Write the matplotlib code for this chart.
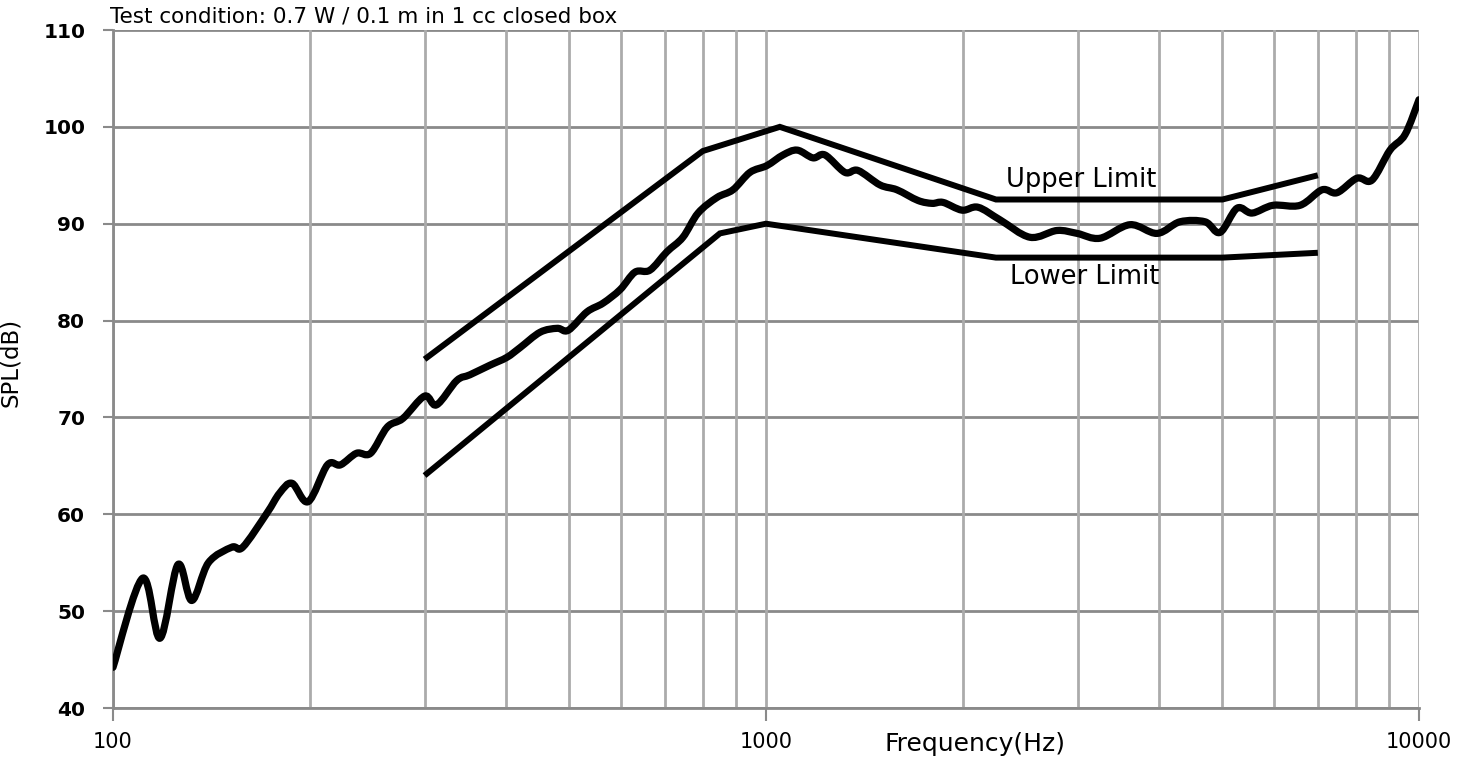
import matplotlib
matplotlib.use("Agg")
import matplotlib.pyplot as plt
import numpy as np
from matplotlib.path import Path
from matplotlib.patches import PathPatch
from matplotlib.ticker import FixedLocator, NullFormatter, NullLocator

# ---- data ----
freq = [100, 111, 118, 125.7, 132, 140, 152, 158, 172, 180, 188, 199, 213, 223,
        236, 248, 263, 278, 300, 313, 336, 352, 378, 401, 420, 451, 479, 498,
        532, 563, 598, 630, 664, 705, 746, 787, 841, 890, 945, 1003, 1062, 1116,
        1180, 1231, 1321, 1383, 1495, 1587, 1709, 1796, 1867, 1996, 2112, 2282,
        2537, 2790, 2995, 3247, 3610, 3971, 4305, 4702, 4957, 5264, 5550, 5976,
        6574, 7104, 7488, 8036, 8472, 9028, 9519, 10000]
spl = [44.2, 53.4, 47.2, 54.8, 51.1, 55.0, 56.6, 56.6, 60.1, 62.2, 63.2, 61.3,
       65.1, 65.1, 66.3, 66.3, 69.0, 69.9, 72.2, 71.3, 73.8, 74.4, 75.4, 76.2,
       77.2, 78.8, 79.2, 79.0, 80.9, 81.8, 83.2, 85.0, 85.2, 87.1, 88.6, 91.1,
       92.7, 93.5, 95.3, 96.0, 97.1, 97.6, 96.8, 97.1, 95.3, 95.5, 94.0, 93.5,
       92.4, 92.1, 92.2, 91.4, 91.7, 90.4, 88.6, 89.3, 89.0, 88.5, 89.9, 89.0,
       90.2, 90.2, 89.1, 91.6, 91.1, 91.9, 91.9, 93.5, 93.2, 94.7, 94.5, 97.6,
       99.2, 102.8]

upper_freq = [300, 800, 1050, 2250, 5000, 7000]
upper_spl = [76, 97.5, 100, 92.5, 92.5, 95]
lower_freq = [300, 850, 1000, 2250, 5000, 7000]
lower_spl = [64, 89, 90, 86.5, 86.5, 87]

x_major = [100, 1000, 10000]
x_grid = [200, 300, 400, 500, 600, 700, 800, 900,
          2000, 3000, 4000, 5000, 6000, 7000, 8000, 9000]
y_ticks = [40, 50, 60, 70, 80, 90, 100, 110]

title_text = "Test condition: 0.7 W / 0.1 m in 1 cc closed box"
xlabel_text = "Frequency(Hz)"
ylabel_text = "SPL(dB)"
upper_label = "Upper Limit"
lower_label = "Lower Limit"
upper_label_pos = (2330, 94.5)
lower_label_pos = (2360, 84.5)


def smooth_path(xs, ys):
    """Smoothed line (like a spreadsheet 'smoothed line') through the
    measured points: Catmull-Rom segments drawn as cubic Bezier curves,
    built in log-frequency space and handed to the log axis."""
    lx = np.log10(np.asarray(xs, float))
    y = np.asarray(ys, float)
    n = len(lx)
    verts = [(xs[0], ys[0])]
    codes = [Path.MOVETO]
    for i in range(n - 1):
        i0, i3 = max(i - 1, 0), min(i + 2, n - 1)
        c1x = lx[i] + (lx[i + 1] - lx[i0]) / 6.0
        c1y = y[i] + (y[i + 1] - y[i0]) / 6.0
        c2x = lx[i + 1] - (lx[i3] - lx[i]) / 6.0
        c2y = y[i + 1] - (y[i3] - y[i]) / 6.0
        verts += [(10 ** c1x, c1y), (10 ** c2x, c2y), (xs[i + 1], ys[i + 1])]
        codes += [Path.CURVE4] * 3
    return Path(verts, codes)


# ---- figure ----
fig = plt.figure(figsize=(14.76, 7.62), dpi=100)
ax = fig.add_axes([113 / 1476, 1 - 708 / 762, 1306 / 1476, 678 / 762])

ax.set_xscale("log")
ax.set_xlim(100, 10000)
ax.set_ylim(40, 110)

hcol = "#8a8a8a"
vcol = "#ababab"
for yv in y_ticks:
    ax.axhline(yv, color=hcol, lw=2.0, zorder=1)
for xv in x_major + x_grid:
    ax.axvline(xv, color=vcol, lw=2.0, zorder=1)

ax.add_patch(PathPatch(smooth_path(freq, spl), facecolor="none",
                       edgecolor="black", lw=5.2, joinstyle="round",
                       capstyle="round", zorder=3))
ax.plot(upper_freq, upper_spl, color="black", lw=4.3, solid_joinstyle="miter",
        solid_capstyle="butt", zorder=3)
ax.plot(lower_freq, lower_spl, color="black", lw=4.3, solid_joinstyle="miter",
        solid_capstyle="butt", zorder=3)

ax.text(*upper_label_pos, upper_label, fontsize=18.5, va="center", ha="left")
ax.text(*lower_label_pos, lower_label, fontsize=18.5, va="center", ha="left")

for s in ["top", "right"]:
    ax.spines[s].set_visible(False)
for s in ["left", "bottom"]:
    ax.spines[s].set_color(hcol)
    ax.spines[s].set_linewidth(2.0)

ax.xaxis.set_major_locator(FixedLocator(x_major))
ax.xaxis.set_minor_locator(NullLocator())
ax.xaxis.set_minor_formatter(NullFormatter())
ax.set_xticklabels([str(v) for v in x_major])
ax.set_yticks(y_ticks)
ax.set_yticklabels([str(v) for v in y_ticks])

ax.tick_params(axis="x", direction="out", length=9, width=1.5, color=hcol,
               pad=8, labelsize=15)
ax.tick_params(axis="y", direction="out", length=7, width=1.5, color=hcol,
               pad=13, labelsize=14.5)
for lbl in ax.get_yticklabels():
    lbl.set_fontweight("bold")

ax.set_xlabel(xlabel_text, fontsize=18)
ax.xaxis.set_label_coords(0.66, -0.036)
ax.set_ylabel(ylabel_text, fontsize=16.5)
ax.yaxis.set_label_coords(-0.07, 0.51)

fig.text(110 / 1476, 1 - 17 / 762, title_text, fontsize=15.5, ha="left",
         va="center")

fig.savefig("out.png", dpi=100, facecolor="white")
